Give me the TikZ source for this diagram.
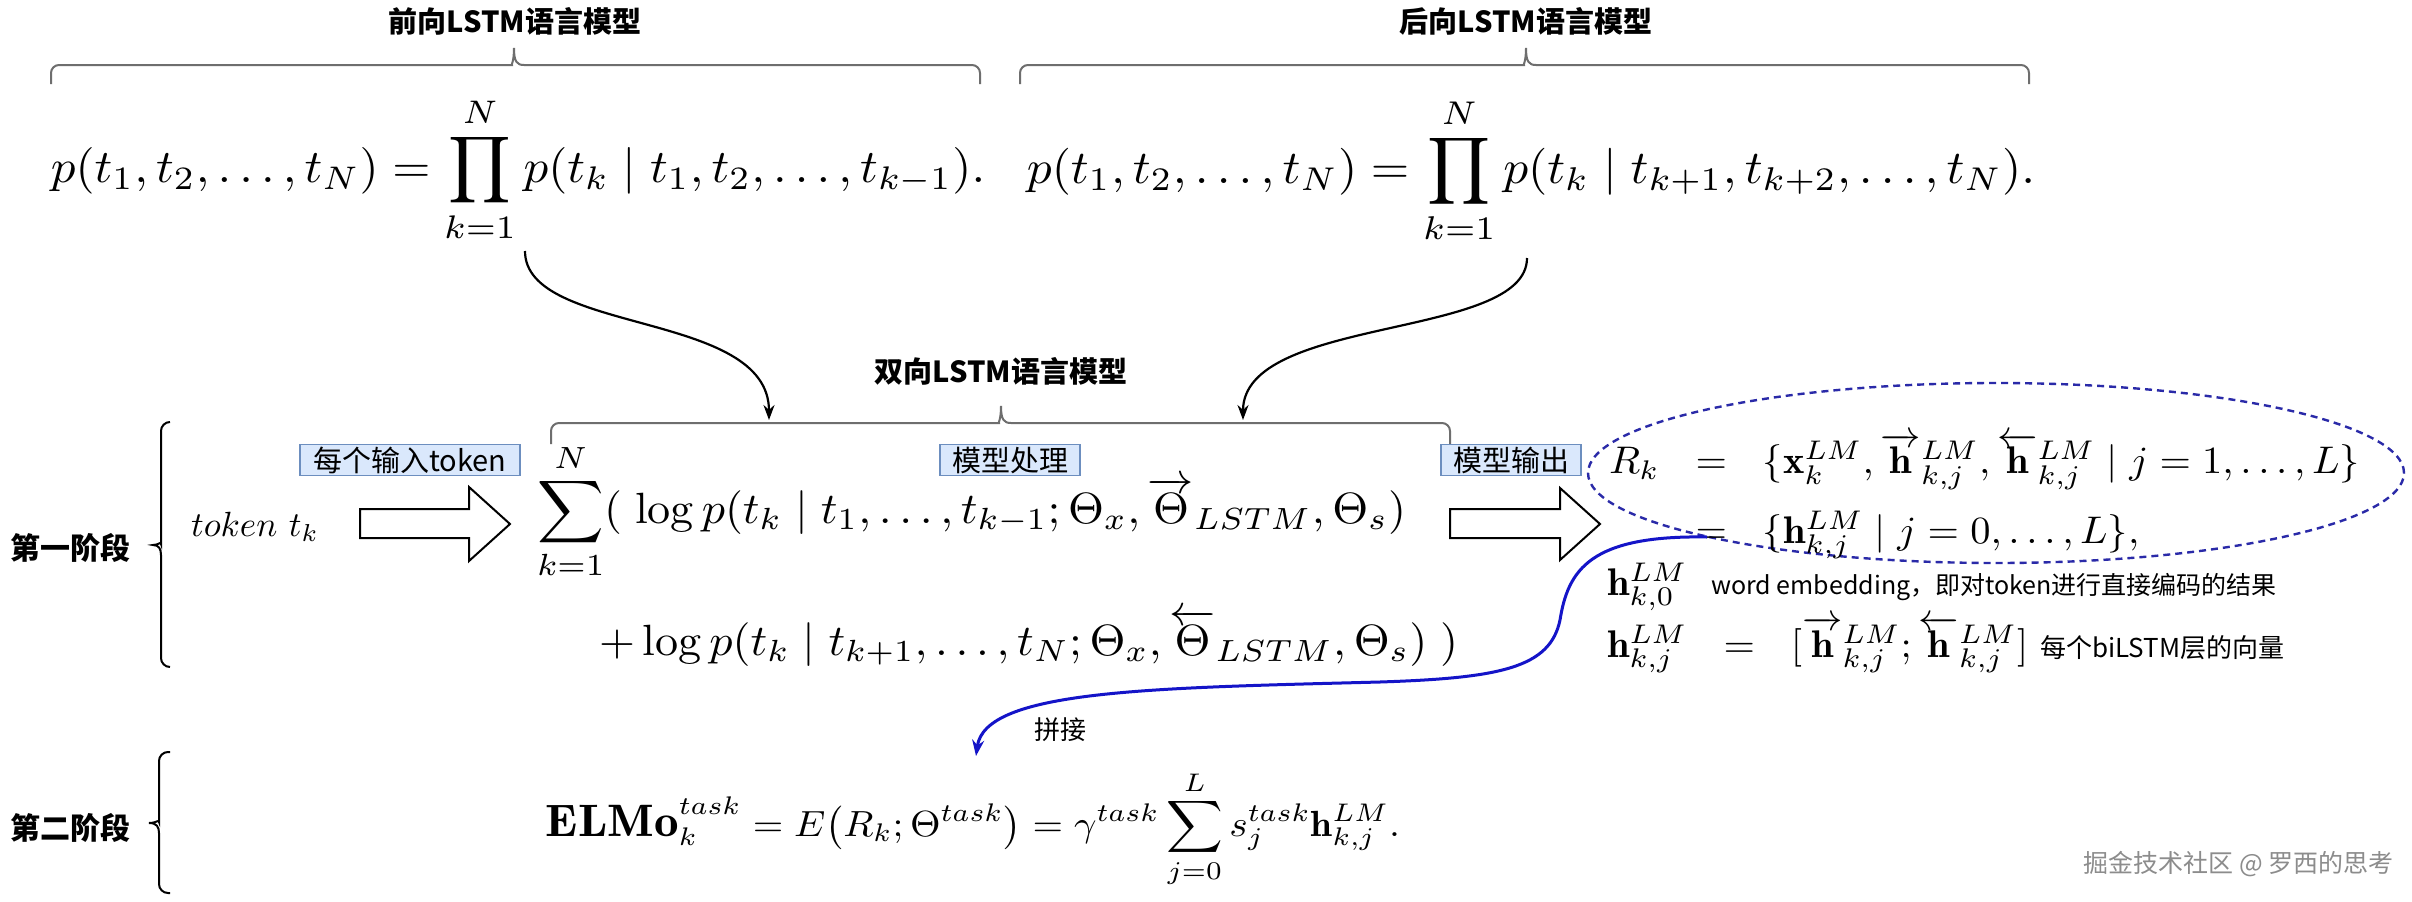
\documentclass[tikz,border=0pt]{standalone}
\usepackage{amsmath,amssymb}
\usepackage{graphicx}
\usepackage{fontspec}
\newfontfamily\cjk{Noto Sans CJK SC}
\usetikzlibrary{arrows.meta,shapes.geometric}
\definecolor{lblfill}{HTML}{DAE8FC}
\definecolor{lbldraw}{HTML}{6C8EBF}
\definecolor{bracegray}{HTML}{6E6E6E}
\definecolor{elblue}{HTML}{2A2AA8}
\definecolor{curveblue}{HTML}{1414C8}
\definecolor{wmgray}{HTML}{8C8C8C}
\newsavebox\boxA
\newsavebox\boxR
\begin{document}
\begin{tikzpicture}[x=1pt,y=-1pt,
  titletext/.style={font=\cjk\bfseries\fontsize{29}{34}\selectfont, inner sep=0pt},
  phasetext/.style={font=\cjk\bfseries\fontsize{30}{36}\selectfont, inner sep=0pt},
  lbl/.style={draw=lbldraw, fill=lblfill, line width=1.2pt, inner sep=0pt,
    minimum height=31pt, font=\cjk\fontsize{29}{31}\selectfont},
  note/.style={font=\cjk\fontsize{25}{30}\selectfont, inner sep=0pt},
  mathnode/.style={inner sep=0pt, outer sep=0pt},
  topbrace/.style={draw=bracegray, line width=2pt},
  phasebrace/.style={draw=black, line width=2pt},
  blockarrow/.style={draw=black, fill=white, line width=2pt, line join=miter},
  curvearrow/.style={draw=black, line width=2.2pt, -{Stealth[length=15pt,width=11pt]}},
  bluearrow/.style={draw=curveblue, line width=3pt, -{Stealth[length=16pt,width=12pt]}},
  dashell/.style={draw=elblue, ellipse, line width=2.4pt, dash pattern=on 7pt off 5pt,
    minimum width=816pt, minimum height=180pt, inner sep=0pt}
]
\useasboundingbox (0,0) rectangle (2412,902);
\fill[white] (0,0) rectangle (2412,902);

% ---------- titles ----------
\node[titletext] (tf) at (515,21) {前向LSTM语言模型};
\node[titletext] (tb) at (1526,21) {后向LSTM语言模型};
\node[titletext] (tbi) at (1001,371) {双向LSTM语言模型};

% ---------- top braces ----------
\draw[topbrace] (51,84) [rounded corners=8pt] -- (51,65) -- (504,65) [sharp corners]
  .. controls (511,65) and (514,62) .. (514,48)
  .. controls (514,62) and (517,65) .. (524,65) [rounded corners=8pt] -- (980,65) -- (980,84);
\draw[topbrace] (1020,84) [rounded corners=8pt] -- (1020,65) -- (1516,65) [sharp corners]
  .. controls (1523,65) and (1526,62) .. (1526,48)
  .. controls (1526,62) and (1529,65) .. (1536,65) [rounded corners=8pt] -- (2029,65) -- (2029,84);
\draw[topbrace] (551,444) [rounded corners=8pt] -- (551,423) -- (991,423) [sharp corners]
  .. controls (998,423) and (1001,420) .. (1001,406)
  .. controls (1001,420) and (1004,423) .. (1011,423) [rounded corners=8pt] -- (1450,423) -- (1450,444);

% ---------- top formulas ----------
\node[mathnode] (f1) at (518,170) {\resizebox*{934pt}{146pt}{$\displaystyle p(t_1,t_2,\ldots,t_N)=\prod_{k=1}^{N}p(t_k\mid t_1,t_2,\ldots,t_{k-1}).$}};
\node[mathnode] (f2) at (1531,171) {\resizebox*{1008pt}{147pt}{$\displaystyle p(t_1,t_2,\ldots,t_N)=\prod_{k=1}^{N}p(t_k\mid t_{k+1},t_{k+2},\ldots,t_N).$}};

\coordinate (a1s) at (525,251);
\coordinate (a1e) at (769,420);
\coordinate (a2s) at (1527,258);
\coordinate (a2e) at (1243,420);
\draw[curvearrow] (a1s) .. controls (525,335) and (769,310) .. (a1e);
\draw[curvearrow] (a2s) .. controls (1527,340) and (1243,315) .. (a2e);

% ---------- phase 1 ----------
\node[phasetext] (p1) at (70,548) {第一阶段};
\draw[phasebrace] (170,422) [rounded corners=9pt] -- (161,422) -- (161,535) [sharp corners]
  .. controls (161,541) and (159,545) .. (153,545)
  .. controls (159,545) and (161,549) .. (161,555) [rounded corners=9pt] -- (161,667) -- (170,667);

\node[mathnode] (tok) at (255,527) {\scalebox{3.5}{$token\ t_k$}};
\node[lbl, minimum width=220pt] (l1) at (410,460) {每个输入token};
\node[lbl, minimum width=140pt] (l2) at (1010,460) {模型处理};
\node[lbl, minimum width=140pt] (l3) at (1511,460) {模型输出};

\draw[blockarrow] (360,509) -- (469,509) -- (469,487) -- (510,524) -- (469,561) -- (469,538) -- (360,538) -- cycle;
\draw[blockarrow] (1450,509) -- (1560,509) -- (1560,488) -- (1600,524) -- (1560,560) -- (1560,538) -- (1450,538) -- cycle;

% middle formula
\sbox\boxA{\normalfont$\displaystyle\sum_{k=1}^{N}(\;\log p(t_k\mid t_1,\ldots,t_{k-1};\Theta_x,\overrightarrow{\Theta}_{LSTM},\Theta_s)$}
\pgfmathsetmacro\ax{869/\the\wd\boxA}
\pgfmathsetmacro\ay{137/(\the\ht\boxA+\the\dp\boxA)}
\node[mathnode] (m1) at (971.5,511.5) {\scalebox{\ax}[\ay]{\usebox\boxA}};
\node[mathnode, anchor=base west] (m2) at (599,655) {\scalebox{\ax}[\ay]{$\displaystyle +\log p(t_k\mid t_{k+1},\ldots,t_N;\Theta_x,\overleftarrow{\Theta}_{LSTM},\Theta_s)\;)$}};

% ellipse and R block
\node[dashell] (ell) at (1996,473) {};
\sbox\boxR{\normalfont$R_k\mskip11mu=\mskip11mu\{\mathbf{x}_k^{LM},\overrightarrow{\mathbf{h}}^{LM}_{k,j},\overleftarrow{\mathbf{h}}^{LM}_{k,j}\mid j=1,\ldots,L\}$}
\pgfmathsetmacro\rx{751/\the\wd\boxR}
\pgfmathsetmacro\ry{57/(\the\ht\boxR+\the\dp\boxR)}
\node[mathnode, anchor=north west] (r1) at (1609,433) {\scalebox{\rx}[\ry]{\usebox\boxR}};
\node[mathnode, anchor=base west] (r2) at (1609,543) {\scalebox{\rx}[\ry]{$\phantom{R_k}\mskip11mu=\mskip11mu\{\mathbf{h}^{LM}_{k,j}\mid j=0,\ldots,L\},$}};
\node[mathnode, anchor=base west] (h0) at (1607,595) {\scalebox{\rx}[\ry]{$\mathbf{h}^{LM}_{k,0}$}};
\node[note, anchor=west] (n0) at (1711,587) {word embedding，即对token进行直接编码的结果};
\node[mathnode, anchor=base west] (hj) at (1607,657) {\scalebox{\rx}[\ry]{$\mathbf{h}^{LM}_{k,j}\mskip11mu=\mskip11mu[\overrightarrow{\mathbf{h}}^{LM}_{k,j};\overleftarrow{\mathbf{h}}^{LM}_{k,j}]$}};
\node[note, anchor=west, font=\cjk\fontsize{26}{30}\selectfont] (nj) at (2040,648) {每个biLSTM层的向量};

% ---------- phase 2 ----------
\node[phasetext] (p2) at (70,828) {第二阶段};
\draw[phasebrace] (170,752) [rounded corners=9pt] -- (159,752) -- (159,813) [sharp corners]
  .. controls (159,819) and (157,823) .. (149,823)
  .. controls (157,823) and (159,827) .. (159,833) [rounded corners=9pt] -- (159,893) -- (170,893);

\node[mathnode] (elmo) at (973,829) {\resizebox*{854pt}{118pt}{$\displaystyle\scalebox{1.25}{$\mathbf{ELMo}$}_k^{task}=E\bigl(R_k;\Theta^{task}\bigr)=\gamma^{task}\sum_{j=0}^{L}s_j^{task}\mathbf{h}^{LM}_{k,j}.$}};

% blue connector
\coordinate (bs) at (1707,537);
\coordinate (be) at (976,756);
\draw[bluearrow] (bs) .. controls (1590,535) and (1568,570) .. (1560,620)
  .. controls (1550,668) and (1500,678) .. (1380,682)
  .. controls (1150,688) and (985,690) .. (be);
\node[note, font=\cjk\fontsize{26}{30}\selectfont] (pj) at (1060,730) {拼接};

% watermark
\node[note, text=wmgray, font=\cjk\fontsize{25}{28}\selectfont, anchor=east] (wm) at (2394,864) {掘金技术社区 @ 罗西的思考};
\end{tikzpicture}
\end{document}
